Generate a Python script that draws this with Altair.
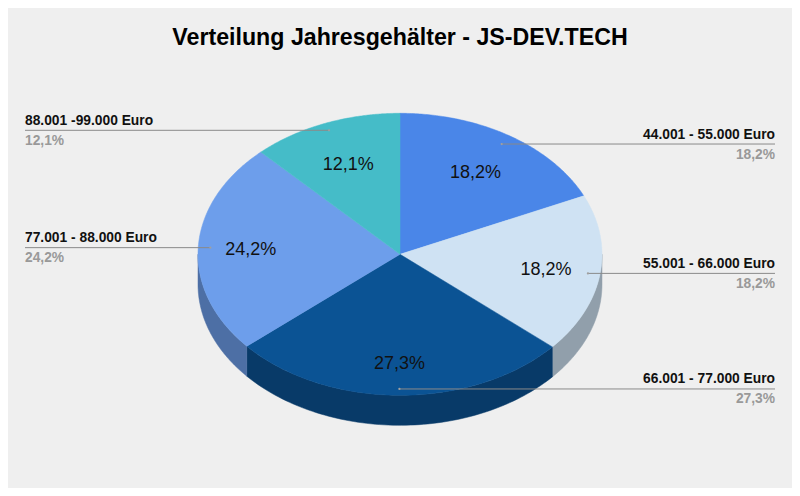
import numpy as np
import altair as alt

categories = ["44.001 - 55.000 Euro", "55.001 - 66.000 Euro", "66.001 - 77.000 Euro",
              "77.001 - 88.000 Euro", "88.001 -99.000 Euro"]
shares = [18.2, 18.2, 27.3, 24.2, 12.1]
percent_labels = ["18,2%", "18,2%", "27,3%", "24,2%", "12,1%"]
label_side = ["right", "right", "right", "left", "left"]
top_colors = ["#4a86e8", "#cfe2f3", "#0b5394", "#6d9eeb", "#45bcc8"]
side_colors = ["#3465a4", "#919fab", "#083a68", "#4d6fa5", "#30848c"]
inner_radius_factor = [0.69, 0.73, 0.77, 0.74, 0.69]
anchor_radius_factor = [0.93, 0.94, 0.955, 0.94, 0.947]

W, H = 784, 480          # drawing area; page margin is 8px
CX, CY = 400, 254.3      # pie centre in page pixels
RX, RY = 202, 141
DEPTH = 30

total = sum(shares)
edges = np.cumsum([0] + shares) / total * 2 * np.pi


def px(theta, r=1.0):
    return CX + RX * r * np.sin(theta)


def py(theta, r=1.0):
    return CY - RY * r * np.cos(theta)


def feature(points, color):
    ring = [[float(x), float(-y)] for x, y in points]
    ring.append(ring[0])
    return {"type": "Feature",
            "geometry": {"type": "Polygon", "coordinates": [ring]},
            "properties": {"color": color}}


features = []
# side walls: only the front half of the rim
for i in range(len(shares)):
    a = max(edges[i], np.pi / 2)
    b = min(edges[i + 1], 3 * np.pi / 2)
    if a >= b:
        continue
    t = np.linspace(a, b, 80)
    rim = [(px(v), py(v)) for v in t]
    low = [(px(v), py(v) + DEPTH) for v in t[::-1]]
    features.append(feature(rim + low, side_colors[i]))
# top faces
for i in range(len(shares)):
    t = np.linspace(edges[i], edges[i + 1], 120)
    features.append(feature([(CX, CY)] + [(px(v), py(v)) for v in t], top_colors[i]))

shapes = alt.Chart(alt.Data(values=features)).mark_geoshape(strokeWidth=0.5).encode(
    fill=alt.Fill("properties.color:N", scale=None),
    stroke=alt.Stroke("properties.color:N", scale=None),
).project(type="identity", reflectY=True, scale=1, translate=[-8, -8])

mids = (edges[:-1] + edges[1:]) / 2
rows = []
for i, c in enumerate(categories):
    ax, ay = px(mids[i], anchor_radius_factor[i]), py(mids[i], anchor_radius_factor[i])
    end = 775 if label_side[i] == "right" else 25
    rows.append({"cat": c, "pct": percent_labels[i],
                 "ax": float(ax), "ay": float(ay), "end": end,
                 "align": label_side[i],
                 "ix": float(px(mids[i], inner_radius_factor[i])),
                 "iy": float(py(mids[i], inner_radius_factor[i])) + 1,
                 "ly": float(ay) - 9.5, "py": float(ay) + 10.5})

xs = alt.Scale(domain=[8, 8 + W], range=[0, W])
ys = alt.Scale(domain=[8, 8 + H], range=[0, H])
base = alt.Chart(alt.Data(values=rows))
X = lambda f: alt.X(f, type="quantitative", scale=xs, axis=None)
Y = lambda f: alt.Y(f, type="quantitative", scale=ys, axis=None)

leaders = base.mark_rule(color="#8a8a8a", strokeWidth=1).encode(x=X("ax"), x2="end:Q", y=Y("ay"))
dots = base.mark_point(filled=True, color="#a0a0a0", size=5, opacity=1).encode(x=X("ax"), y=Y("ay"))
inner = base.mark_text(font="Liberation Sans", fontSize=18, color="#111111").encode(
    x=X("ix"), y=Y("iy"), text="pct:N")
layers = [shapes, leaders, dots, inner]
for side in ("left", "right"):
    sub = base.transform_filter(alt.datum.align == side)
    layers.append(sub.mark_text(font="Liberation Sans", fontSize=13.8, fontWeight="bold",
                                color="#111111", align=side).encode(x=X("end"), y=Y("ly"), text="cat:N"))
    layers.append(sub.mark_text(font="Liberation Sans", fontSize=13.8, fontWeight="bold",
                                color="#999999", align=side).encode(x=X("end"), y=Y("py"), text="pct:N"))

title_text = ["Verteilung Jahresgehälter - JS-DEV.TECH"]
title = alt.Chart(alt.Data(values=[{"t": title_text[0], "x": 400, "y": 38}])).mark_text(
    font="Liberation Sans", fontSize=23.2, fontWeight="bold", color="#000000"
).encode(x=X("x"), y=Y("y"), text="t:N")
layers.append(title)

chart = alt.layer(*layers).resolve_scale(x="shared", y="shared").properties(
    width=W, height=H, padding=0, background="#efefef",
    autosize=alt.AutoSizeParams(type="none"),
).configure_view(stroke=None)

chart.save("out.html", embed_options={"renderer": "svg", "actions": False})
